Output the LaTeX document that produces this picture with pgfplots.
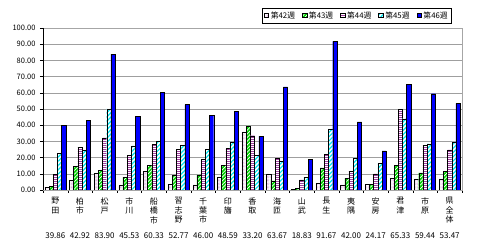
\documentclass[border=0pt]{standalone}
\usepackage{pgfplots}
\pgfplotsset{compat=1.18}
\usepackage{pgfplotstable}
\usetikzlibrary{patterns.meta}
\usepackage{fontspec}
\setmainfont{Noto Sans CJK JP}
\definecolor{wpink}{RGB}{200,120,200}
\definecolor{wgreen}{RGB}{0,210,0}
\definecolor{wpurple}{RGB}{160,60,160}
\definecolor{wcyan}{RGB}{0,230,240}
\definecolor{wblue}{RGB}{0,0,255}
\pgfplotstableread{
x w42 w43 w44 w45 w46
0 1.9 2.3 9.5 22.5 39.86
1 5.8 14.4 26.6 24.3 42.92
2 10.5 12.2 32.2 50.0 83.90
3 2.9 8.0 21.4 27.2 45.53
4 11.5 15.3 28.0 30.3 60.33
5 3.5 8.9 25.2 27.6 52.77
6 3.1 9.3 19.0 25.2 46.00
7 8.2 15.1 25.8 29.7 48.59
8 35.9 39.6 33.5 21.6 33.20
9 9.9 5.6 19.8 17.7 63.67
10 0.4 1.2 6.2 8.0 18.83
11 4.3 13.6 21.9 37.7 91.67
12 3.1 7.4 11.8 19.8 42.00
13 3.5 3.7 9.9 16.3 24.17
14 7.4 15.1 49.6 44.0 65.33
15 6.8 10.5 27.6 28.5 59.44
16 6.8 11.5 24.7 29.7 53.47
}\data
\begin{document}
\begin{tikzpicture}
\useasboundingbox (-43pt,-55pt) rectangle (437pt,190pt);
\begin{axis}[
  at={(0,0)}, anchor=south west,
  scale only axis, width=419pt, height=162pt,
  xmin=-0.5, xmax=16.5, ymin=0, ymax=100,
  ybar=0pt, bar width=4.2pt,
  axis line style={draw=gray!70},
  tick pos=left,
  ymajorgrids, grid style={gray!75, line width=0.5pt},
  ytick={0,10,...,100},
  /pgf/number format/assume math mode=true,
  yticklabel={\pgfmathprintnumber[fixed,fixed zerofill,precision=2]{\tick}},
  yticklabel style={font=\fontsize{7.5}{9}\selectfont, xshift=-1pt},
  major tick length=3pt, tick align=outside,
  y tick style={black},
  major x tick style={draw=none},
  minor xtick={-0.5,0.5,...,16.5},
  minor x tick style={black},
  minor tick length=3pt,
  xtick={0,...,16},
  xticklabels={{野\\田},{柏\\市},{松\\戸},{市\\川},{船\\橋\\市},{習\\志\\野},{千\\葉\\市},{印\\旛},{香\\取},{海\\匝},{山\\武},{長\\生},{夷\\隅},{安\\房},{君\\津},{市\\原},{県\\全\\体}},
  xticklabel style={align=center, font=\fontsize{8}{9.4}\selectfont, yshift=-1pt},
  extra x ticks={0,...,16},
  extra x tick labels={39.86,42.92,83.90,45.53,60.33,52.77,46.00,48.59,33.20,63.67,18.83,91.67,42.00,24.17,65.33,59.44,53.47},
  extra x tick style={tick label style={yshift=-35.5pt, font=\fontsize{8}{9}\selectfont}},
  legend columns=5,
  legend style={at={(0.749,1.077)}, anchor=center, draw=black, line width=0.4pt,
    font=\fontsize{7.8}{8}\selectfont, inner sep=1.5pt,
    /tikz/every even column/.append style={column sep=5pt}},
  legend image code/.code={\draw[#1,draw=black,line width=0.4pt] (0pt,-2pt) rectangle (4.5pt,2.5pt);},
]
\addplot[draw=black, line width=0.4pt, fill=white, postaction={pattern={Dots[radius=0.35pt,distance=1.4pt]}, pattern color=wpink}] table[x=x,y=w42]{\data};
\addplot[draw=black, line width=0.4pt, fill=wgreen, postaction={pattern={Lines[angle=45,distance=2.6pt,line width=0.7pt]}, pattern color=white}] table[x=x,y=w43]{\data};
\addplot[draw=black, line width=0.4pt, fill=white, postaction={pattern={Lines[angle=0,distance=2pt,line width=0.8pt]}, pattern color=wpurple}] table[x=x,y=w44]{\data};
\addplot[draw=black, line width=0.4pt, fill=white, postaction={pattern={Lines[angle=45,distance=3pt,line width=1.2pt]}, pattern color=wcyan}] table[x=x,y=w45]{\data};
\addplot[draw=black, line width=0.4pt, fill=wblue] table[x=x,y=w46]{\data};
\legend{第42週,第43週,第44週,第45週,第46週}
\draw[black, line width=0.5pt] (rel axis cs:0,1) -- (rel axis cs:0,0) -- (rel axis cs:1,0);
\draw[gray!50, line width=1.5pt] ([xshift=1.5pt,yshift=-2pt]rel axis cs:1,1) -- ([xshift=1.5pt]rel axis cs:1,0);
\node[anchor=west, font=\bfseries\fontsize{9}{10}\selectfont] at ([xshift=8pt,yshift=14pt]rel axis cs:0,1) {インフルエンザ};
\node[align=center, font=\fontsize{8}{9.2}\selectfont] at ([xshift=-33pt]rel axis cs:0,0.45) {定\\点\\当\\た\\り\\報\\告\\数};
\end{axis}
\end{tikzpicture}
\end{document}
